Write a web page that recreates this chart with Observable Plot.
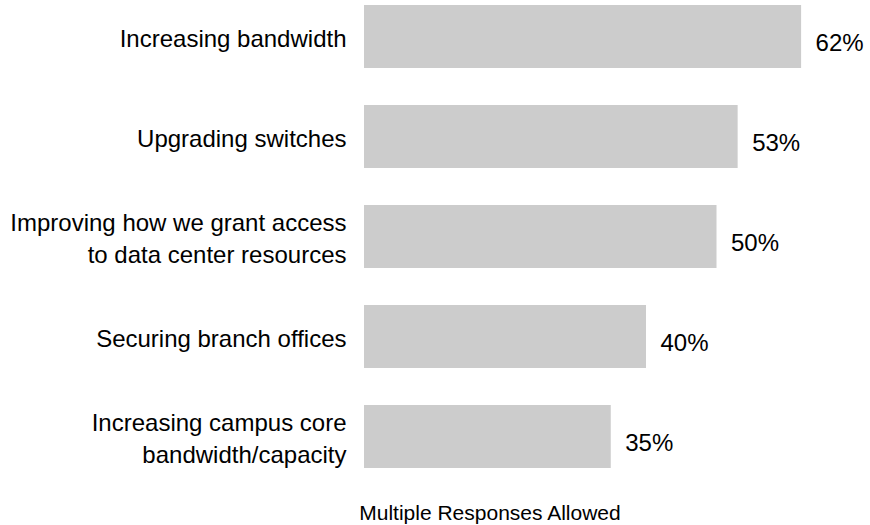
<!DOCTYPE html>
<html>
<head>
<meta charset="utf-8">
<script src="https://cdn.jsdelivr.net/npm/d3@7"></script>
<script src="https://cdn.jsdelivr.net/npm/@observablehq/plot@0.6"></script>
<style>
  html, body { margin: 0; padding: 0; background: #ffffff; }
  body { width: 870px; height: 525px; overflow: hidden; font-family: "Liberation Sans", Arial, sans-serif; }
  #caption {
    width: 870px;
    box-sizing: border-box;
    padding-left: 110px;
    text-align: center;
    font-size: 21px;
    line-height: 24px;
    margin-top: 11px;
    color: #000;
  }
</style>
</head>
<body>
<div id="chart"></div>
<div id="caption">Multiple Responses Allowed</div>
<script>
const categories = [
  "Increasing bandwidth",
  "Upgrading switches",
  "Improving how we grant access\nto data center resources",
  "Securing branch offices",
  "Increasing campus core\nbandwidth/capacity"
];
const values = [62, 53, 50, 40, 35];
const valueLabels = ["62%", "53%", "50%", "40%", "35%"];

const data = categories.map((c, i) => ({category: c, value: values[i], label: valueLabels[i]}));

const chart = Plot.plot({
  width: 870,
  height: 490,
  marginLeft: 364,
  marginRight: 12.5,
  marginTop: 4,
  marginBottom: 22,
  style: {fontFamily: "'Liberation Sans', Arial, sans-serif", fontSize: "24px", color: "#000", background: "#fff"},
  x: {domain: [0, 70], axis: null},
  y: {domain: categories, paddingInner: 0.372, paddingOuter: 0, axis: null},
  marks: [
    Plot.barX(data, {y: "category", x: "value", fill: "#cccccc"}),
    Plot.text(data, {
      y: "category", x: 0, text: "category",
      textAnchor: "end", dx: -18, dy: 0,
      fontSize: 24, lineHeight: 1.33, fill: "#000"
    }),
    Plot.text(data, {
      y: "category", x: "value", text: "label",
      textAnchor: "start", dx: 14, dy: 6,
      fontSize: 24, fill: "#000"
    })
  ]
});
document.getElementById("chart").appendChild(chart);
</script>
</body>
</html>
